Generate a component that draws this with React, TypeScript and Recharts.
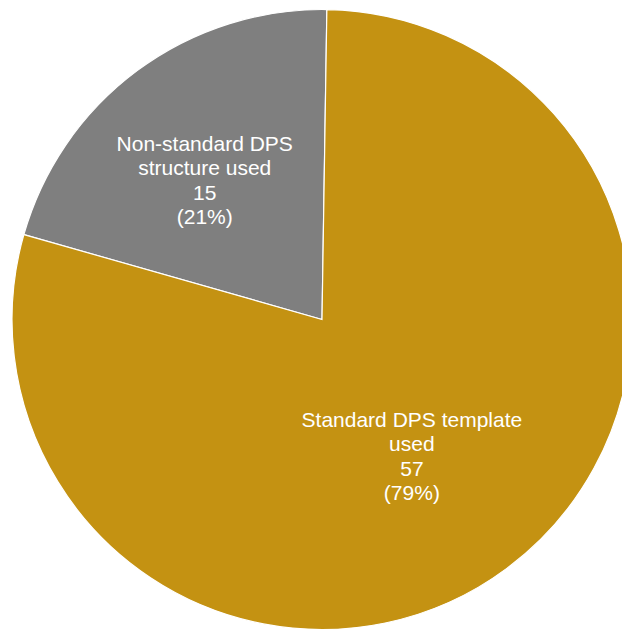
import React from 'react';
import { PieChart, Pie, Cell } from 'recharts';

const categories = ['Non-standard DPS structure used', 'Standard DPS template used'];
const labelLines = [
  ['Non-standard DPS', 'structure used'],
  ['Standard DPS template', 'used'],
];
const values = [15, 57];
const percentLabels = ['(21%)', '(79%)'];
const colors = ['#7f7f7f', '#c49212'];

const data = categories.map((name, i) => ({ name, value: values[i] }));

const RADIAN = Math.PI / 180;
const labelRadius = [0.575, 0.535];
const labelShift = [[-11, 3], [-9, 3]];

const renderLabel = (props: any) => {
  const { cx, cy, midAngle, outerRadius, index } = props;
  const r = outerRadius * labelRadius[index];
  const x = cx + r * Math.cos(-midAngle * RADIAN) + labelShift[index][0];
  const y = cy + r * Math.sin(-midAngle * RADIAN) + labelShift[index][1];
  const lines = [...labelLines[index], String(values[index]), percentLabels[index]];
  const lh = 24.5;
  const top = y - ((lines.length - 1) * lh) / 2;
  return (
    <text
      x={x}
      y={top}
      fill="#ffffff"
      textAnchor="middle"
      dominantBaseline="central"
      fontFamily="'Liberation Sans', Arial, sans-serif"
      fontSize={21}
    >
      {lines.map((l, i) => (
        <tspan key={i} x={x} y={top + i * lh}>
          {l}
        </tspan>
      ))}
    </text>
  );
};

export default function App() {
  return (
    <div style={{ position: 'absolute', left: 0, top: 0, width: 622, height: 630, background: '#fff' }}>
      <PieChart width={622} height={630} margin={{ top: 0, right: 0, bottom: 0, left: 0 }}>
        <Pie
          data={data}
          dataKey="value"
          nameKey="name"
          cx={322}
          cy={319.5}
          outerRadius={310}
          startAngle={89.1}
          endAngle={449.1}
          stroke="#ffffff"
          strokeWidth={1.2}
          label={renderLabel}
          labelLine={false}
          isAnimationActive={false}
        >
          {data.map((d, i) => (
            <Cell key={d.name} fill={colors[i]} />
          ))}
        </Pie>
      </PieChart>
    </div>
  );
}
